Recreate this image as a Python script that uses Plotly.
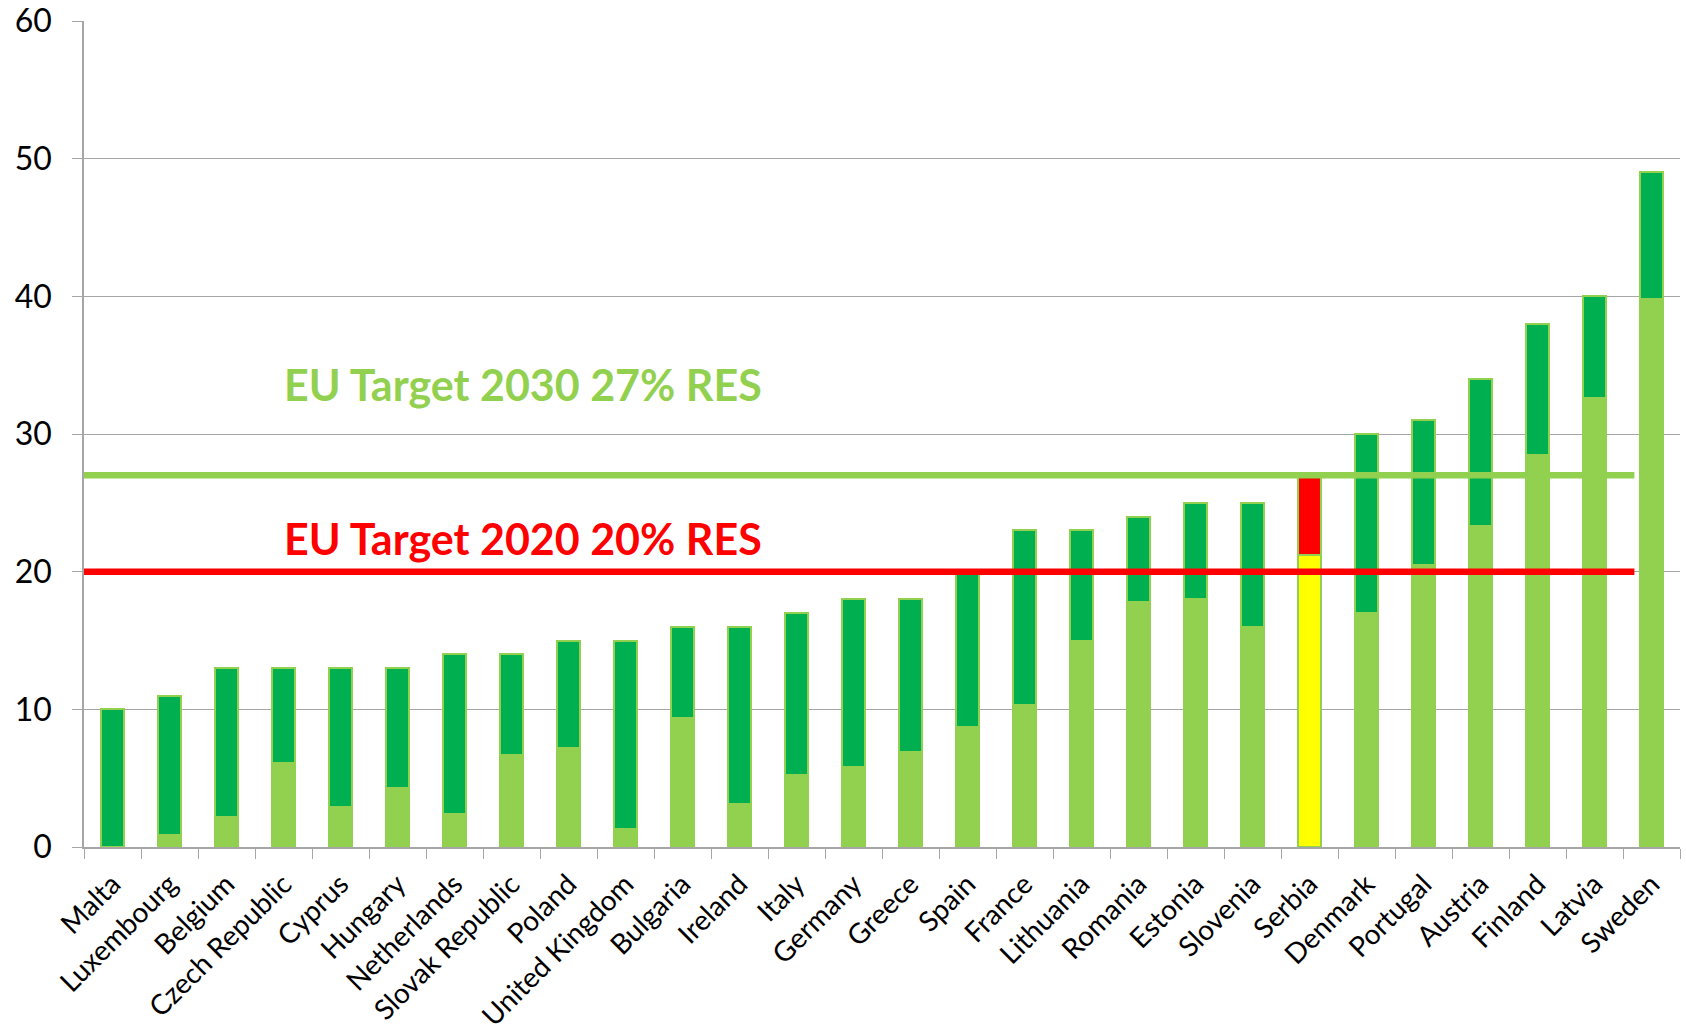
import plotly.graph_objects as go

countries = ["Malta", "Luxembourg", "Belgium", "Czech Republic", "Cyprus", "Hungary",
             "Netherlands", "Slovak Republic", "Poland", "United Kingdom", "Bulgaria",
             "Ireland", "Italy", "Germany", "Greece", "Spain", "France", "Lithuania",
             "Romania", "Estonia", "Slovenia", "Serbia", "Denmark", "Portugal",
             "Austria", "Finland", "Latvia", "Sweden"]
share_2005 = [0.0, 0.9, 2.2, 6.1, 2.9, 4.3, 2.4, 6.7, 7.2, 1.3, 9.4, 3.1, 5.2, 5.8,
              6.9, 8.7, 10.3, 15.0, 17.8, 18.0, 16.0, 21.2, 17.0, 20.5, 23.3, 28.5,
              32.6, 39.8]
target_2020 = [10, 11, 13, 13, 13, 13, 14, 14, 15, 15, 16, 16, 17, 18, 18, 20, 23, 23,
               24, 25, 25, 27, 30, 31, 34, 38, 40, 49]
eu_target_2020 = 20
eu_target_2030 = 27

increase = [t - b for t, b in zip(target_2020, share_2005)]

LIGHT = "#92D050"
DARK = "#00B050"
base_colors = ["#FFFF00" if c == "Serbia" else LIGHT for c in countries]
top_colors = ["#FF0000" if c == "Serbia" else DARK for c in countries]

fig = go.Figure()
fig.add_trace(go.Bar(x=countries, y=share_2005, marker=dict(color=base_colors,
                     line=dict(color=LIGHT, width=1.5)), width=0.41, showlegend=False))
fig.add_trace(go.Bar(x=countries, y=increase, marker=dict(color=top_colors,
                     line=dict(color=LIGHT, width=2)), width=0.41, showlegend=False))

line_end = 26.7
fig.add_shape(type="line", xref="x", yref="y", x0=-0.5, x1=line_end,
              y0=eu_target_2030, y1=eu_target_2030, line=dict(color=LIGHT, width=6.5),
              layer="above")
fig.add_shape(type="line", xref="x", yref="y", x0=-0.5, x1=line_end,
              y0=eu_target_2020, y1=eu_target_2020, line=dict(color="#FF0000", width=6.5),
              layer="above")

fig.add_annotation(text="<b>EU Target 2030 27% RES</b>", xref="paper", yref="y",
                   x=0.124, y=33.6, xanchor="left", yanchor="middle", showarrow=False,
                   font=dict(family="Lato", size=43, color=LIGHT))
fig.add_annotation(text="<b>EU Target 2020 20% RES</b>", xref="paper", yref="y",
                   x=0.124, y=22.4, xanchor="left", yanchor="middle", showarrow=False,
                   font=dict(family="Lato", size=43, color="#FF0000"))

fig.update_layout(
    barmode="stack",
    width=1686, height=1034,
    margin=dict(l=84, r=6, t=21, b=187, autoexpand=False),
    plot_bgcolor="white", paper_bgcolor="white",
    font=dict(family="Lato", color="black"),
)
fig.update_xaxes(type="category", tickangle=-45, tickfont=dict(size=28, family="Lato"),
                 showline=True, linecolor="#A6A6A6", linewidth=1.5, automargin=False,
                 ticks="outside", tickson="boundaries", ticklen=10, tickcolor="#A6A6A6",
                 range=[-0.5, 27.5], showgrid=False, ticklabeloverflow="allow",
                 ticklabelstandoff=8)
fig.update_yaxes(range=[0, 60], dtick=10, tickfont=dict(size=32, family="Lato"),
                 showline=True, linecolor="#A6A6A6", linewidth=1.5, automargin=False,
                 ticks="outside", ticklen=10, tickcolor="#A6A6A6", ticklabeloverflow="allow",
                 ticklabelstandoff=14,
                 showgrid=True, gridcolor="#A6A6A6", gridwidth=1.2, zeroline=False)

fig.write_html("out.html", config={"displayModeBar": False},
               post_script="document.body.style.margin='0';")
